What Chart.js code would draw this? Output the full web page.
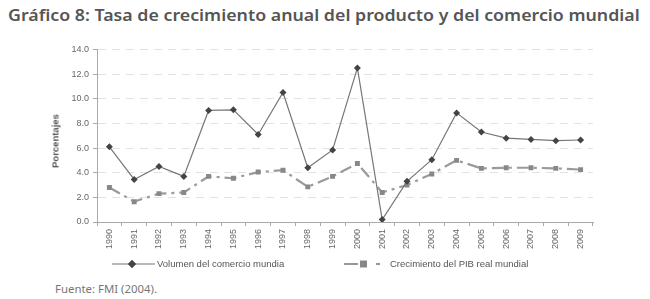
<!DOCTYPE html>
<html>
<head>
<meta charset="utf-8">
<script src="https://cdn.jsdelivr.net/npm/chart.js@4.4.0/dist/chart.umd.min.js"></script>
<style>
  body { margin: 0; background: #fff; width: 650px; height: 299px; overflow: hidden; position: relative; font-family: "Liberation Sans", Arial, sans-serif; }
  #title { position: absolute; left: 8px; top: 4px; font-family: "Noto Sans", sans-serif; font-weight: 600; font-size: 16px; color: #555; white-space: nowrap; transform-origin: left top; }
  #wrap { position: absolute; left: 0; top: 40px; width: 650px; height: 218px; }
  #ytitle { position: absolute; left: 55px; top: 141px; transform: translate(-50%, -50%) rotate(-90deg); font-size: 9.5px; font-weight: bold; color: #555; white-space: nowrap; }
  .leg { position: absolute; top: 257px; height: 14px; font-size: 9.5px; color: #555; white-space: nowrap; line-height: 14px; }
  .leg svg { position: absolute; top: 0; left: 0; }
  .leg span { position: absolute; top: 0; }
  #fuente { position: absolute; left: 55px; top: 282px; font-family: "Noto Sans", sans-serif; font-size: 10.5px; color: #777; white-space: nowrap; transform-origin: left top; }
</style>
</head>
<body>
<div id="title">Gráfico 8: Tasa de crecimiento anual del producto y del comercio mundial</div>
<div id="wrap"><canvas id="chart"></canvas></div>
<div id="ytitle">Porcentajes</div>
<div class="leg" style="left:110px;width:200px">
  <svg width="50" height="14"><line x1="2" y1="7" x2="45" y2="7" stroke="#777" stroke-width="1.2"/><rect x="19" y="4" width="6" height="6" fill="#444" transform="rotate(45 22 7)"/></svg>
  <span style="left:47px">Volumen del comercio mundia</span>
</div>
<div class="leg" style="left:342px;width:220px">
  <svg width="48" height="14"><line x1="2" y1="7" x2="44" y2="7" stroke="#999" stroke-width="2.2" stroke-dasharray="14,18,4,10"/><rect x="18" y="3.5" width="7" height="7" fill="#888"/></svg>
  <span style="left:48px">Crecimiento del PIB real mundial</span>
</div>
<div id="fuente">Fuente: FMI (2004).</div>
<script>
var years = ['1990', '1991', '1992', '1993', '1994', '1995', '1996', '1997', '1998', '1999',
             '2000', '2001', '2002', '2003', '2004', '2005', '2006', '2007', '2008', '2009'];
var comercio = [6.1, 3.45, 4.5, 3.7, 9.05, 9.1, 7.1, 10.5, 4.4, 5.85,
                12.5, 0.2, 3.3, 5.05, 8.85, 7.3, 6.8, 6.7, 6.6, 6.65];
var pib = [2.8, 1.65, 2.3, 2.4, 3.7, 3.55, 4.05, 4.2, 2.85, 3.7,
           4.75, 2.4, 3.0, 3.9, 5.0, 4.35, 4.4, 4.4, 4.35, 4.25];
var yTicks = [0, 2, 4, 6, 8, 10, 12, 14];

// fit the html texts to the widths seen in the reference
var t = document.getElementById('title');
t.style.transform = 'scaleX(' + (632 / t.scrollWidth) + ')';
var f = document.getElementById('fuente');
f.style.transform = 'scaleX(' + (102 / f.scrollWidth) + ')';

var tickFont = { family: '"Liberation Sans", Arial, sans-serif', size: 9 };

new Chart(document.getElementById('chart').getContext('2d'), {
    type: 'line',
    data: {
        labels: years,
        datasets: [{
            label: 'Volumen del comercio mundia',
            data: comercio,
            borderColor: '#777',
            borderWidth: 1.2,
            pointStyle: 'rectRot',
            pointRadius: 3.5,
            pointBackgroundColor: '#444',
            pointBorderColor: '#444',
            pointBorderWidth: 0,
            tension: 0
        }, {
            label: 'Crecimiento del PIB real mundial',
            data: pib,
            borderColor: '#9a9a9a',
            borderWidth: 2.2,
            borderDash: [12, 5, 3, 5],
            pointStyle: 'rect',
            pointRadius: 3.5,
            pointBackgroundColor: '#888',
            pointBorderColor: '#888',
            pointBorderWidth: 0,
            tension: 0
        }]
    },
    options: {
        responsive: true,
        maintainAspectRatio: false,
        animation: false,
        layout: { padding: { left: 0, right: 57, top: 7, bottom: 0 } },
        plugins: { legend: { display: false }, tooltip: { enabled: false } },
        scales: {
            x: {
                offset: true,
                grid: { display: true, drawOnChartArea: false, offset: true, tickLength: 4, color: '#aaa', tickColor: '#aaa' },
                border: { color: '#aaa', width: 1 },
                ticks: { font: tickFont, color: '#666', minRotation: 90, maxRotation: 90, autoSkip: false, padding: 3 },
                afterFit: function (s) { s.height = 36; }
            },
            y: {
                min: 0, max: 14,
                afterBuildTicks: function (s) { s.ticks = yTicks.map(function (v) { return { value: v }; }); },
                grid: { color: '#e2e2e2', tickColor: '#aaa', tickLength: 4, lineWidth: 1 },
                border: { color: '#aaa', width: 1, dash: [8, 6] },
                ticks: { font: tickFont, color: '#666', padding: 4, callback: function (v) { return v.toFixed(1); } },
                afterFit: function (s) { s.width = 97; }
            }
        }
    }
});
</script>
</body>
</html>
